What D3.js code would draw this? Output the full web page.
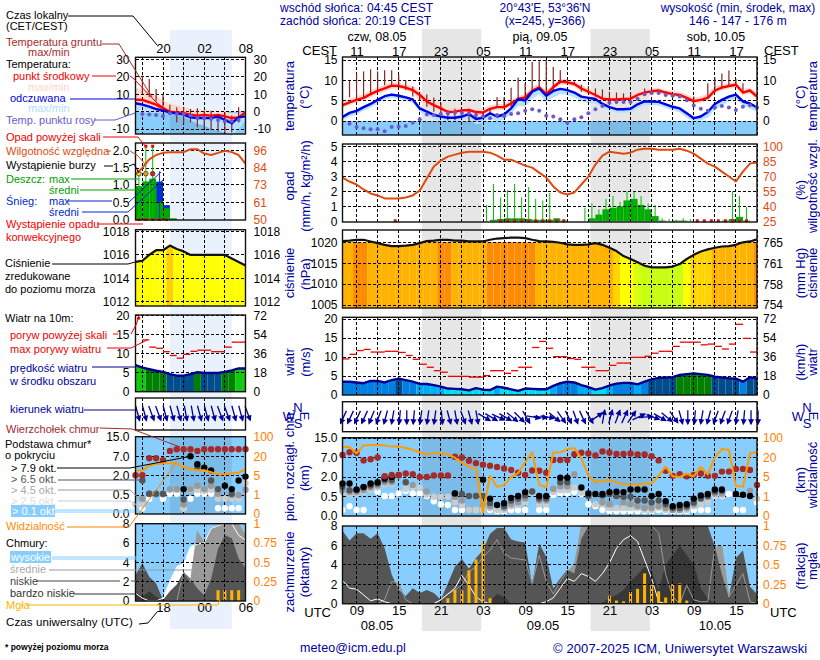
<!DOCTYPE html>
<html>
<head>
<meta charset="utf-8">
<script src="https://cdn.jsdelivr.net/npm/d3@7"></script>
<style>
  html, body { margin: 0; padding: 0; background: #fff; }
  svg { display: block; }
  text { font-family: "Liberation Sans", Arial, sans-serif; }
</style>
</head>
<body>
<div id="chart"></div>
<script>
const _ = null;

// ---- main meteogram, hourly from 07 UTC 08.05 ----
const tempMid = [3.9,4.6,5.2,5.7,6.6,7.4,8.0,8.7,8.6,8.2,7.6,6.4,4.8,3.9,3.1,2.2,2.3,2.6,2.7,2.2,2.1,3.0,3.4,3.4,4.3,5.4,5.8,7.4,8.3,6.6,8.3,9.7,9.5,9.1,8.0,7.2,6.4,5.5,5.3,5.3,5.4,5.5,6.4,7.0,7.3,7.5,7.0,6.6,6.4,5.7,4.9,5.2,5.7,7.5,8.2,8.6,8.9,7.0,7.5,6.0];
const tempMidMax = [4.7,5.5,6.1,6.6,7.6,8.3,8.9,9.5,9.4,9,8.6,7.5,5.9,5,4.2,3.3,3.4,3.5,3.6,3.1,3,3.9,4.2,4.2,5.1,6.2,6.6,8.4,9.1,7.6,9,10.4,10.2,9.8,8.8,8,7.2,6.2,6,6,6.1,6.2,7,7.7,8,8.2,7.7,7.4,7.2,6.6,5.7,6.1,6.8,8.6,9,9.4,9.6,7.9,8.2,7];
const tempMidMin = [3.2,3.9,4.5,5,5.8,6.6,7.2,7.9,7.9,7.5,6.8,4.8,3.8,3,2.4,1.5,1.6,1.8,1.9,1.4,1.3,2.2,2.7,2.7,3.5,4.7,5,6.8,7.5,5.8,7.6,8.9,8.8,8.4,7.2,6.5,5.6,4.8,4.6,4.7,4.8,4.8,5.7,6.3,6.6,6.8,6.3,5.9,5.7,5,4.2,4.5,5,6.8,7.5,7.9,8.2,6.3,6.8,5.3];
const tempFelt = [1.0,2.0,2.5,3.4,4.2,5.2,6.1,6.5,6.2,5.8,5.3,3.1,2.3,1.5,1.1,0.8,0.8,1.1,1.7,0.5,0.8,1.9,1.1,1.6,3.1,5.4,5.0,7.2,8.0,6.2,7.4,7.9,7.6,7.0,6.0,5.7,5.4,4.2,3.4,2.9,2.9,3.0,4.1,4.8,4.8,4.7,4.1,3.5,3.1,1.9,0.7,1.1,2.2,4.2,5.2,6.0,6.5,4.8,4.3,3.3];
const tempFeltMax = [1.3,2.3,2.8,3.7,4.5,5.5,6.4,6.8,6.5,6.1,5.6,3.5,2.6,1.9,1.5,1.1,1.1,1.4,2,0.9,1.1,2.2,1.4,1.9,3.4,5.7,5.3,7.5,8.3,6.5,7.7,8.2,7.9,7.3,6.3,6,5.7,4.5,3.7,3.2,3.2,3.3,4.4,5.1,5.1,5,4.4,3.8,3.4,2.2,1,1.4,2.5,4.5,5.5,6.3,6.8,5.1,4.6,3.6];
const tempFeltMin = [0.2,1.1,1.6,2.5,3.3,4.3,5.3,5.7,5.5,5,4.4,2.2,1.3,0.5,0,-0.2,-0.2,0.1,0.6,-0.8,-0.5,0.6,-0.1,0.3,1.8,3.7,3.5,5.4,6.5,4.7,5.8,6.6,6.4,5.8,4.8,4.4,4.3,3.3,2.5,2,2,2.1,3,3.9,3.9,3.8,3.2,2.6,2.1,0.8,-0.2,0.1,0.8,2.8,3.8,4.8,5.5,3.8,3,2.2];
const dewPoint = [_,-0.7,-1.5,-1.8,-2,-2,-2.5,-1.5,-1.4,-1.2,-0.4,0.4,1.6,1.5,1.7,1.9,2,2,1.9,1.5,1.1,0.7,1.5,1.2,1.7,1.9,2.5,2.9,2.5,1.3,1.1,0.4,-0.4,0.4,0.9,1.9,2.9,3.7,4.5,4.7,4.7,4.7,5.5,6.6,6.9,6.9,6.4,6.2,6,5.1,3.8,3,2.5,3.3,3.7,3.3,2.7,3.5,3.9,3.3];
const groundMax = [_,9.8,11.6,12.2,12.7,12.2,12.5,12.5,11.3,10,8.5,6.5,6.5,5.8,4.5,2.7,3,2.7,3,2.3,2.1,3.1,5.9,5.9,8.2,10.7,9.3,14.5,14.7,15,13.3,12.5,10.3,9.7,8.9,8.6,8,7.8,7.2,7,6.8,7,_,8,_,_,7.3,_,_,_,6,_,9.3,10.7,11.7,12.4,10.3,9.3,_,_];
const groundMin = [_,5.8,5.2,5.6,6.8,7.4,8.8,8.8,8.8,7.6,6,5,3.5,2.3,1.9,0.2,0.2,1.5,0,0.6,1,1.5,3.5,3.1,3.5,5.5,5.5,7.2,8,6,7.2,9.3,9.3,8.9,7.2,6.8,6,5.4,5.4,5.4,5.5,5.7,_,6.8,_,_,6.3,_,_,_,4.7,_,5.6,7,8.2,8.6,8.6,6.8,_,_];

const humidity = [69,65,62,57,53,51,48,48,48,49,51,56,68,80,86,90,92,94,95,95,95,94,91,87,87,84,81,79,74,69,60,54,52,54,62,70,82,91,95,94,93,94,97,98,98,97,97,97,98,96,93,88,83,80,75,70,65,75,83,84];
const rainMax = [0,0,0,0,0,0,0,0,0,0,0,0,0,0,0,0,0,0,0,0,1.1,2.5,1.6,2.1,2.5,1.6,2.3,1.5,1.4,1.9,0.2,0.15,0,0,0.9,1.2,0.8,1.5,1.7,1.3,2,2,1.7,1.2,1.1,0.2,0.15,0.1,0.2,0.15,0.1,0.1,0.1,0.1,0.1,2,1.7,0.95,0,0];
const rainMean = [0,0,0,0,0,0,0,0,0,0,0,0,0,0,0,0,0,0,0,0,0,0.1,0.15,0.2,0.2,0.2,0.15,0.1,0.1,0.1,0.2,0.05,0,0,0,0.2,0.45,0.8,0.9,1,1.4,1.5,1.1,0.8,0.35,0.05,0,0.05,0.05,0,0,0,0,0,0.05,0.15,0.3,0.05,0,0];
const convectiveHours = [7,22,23,24,25,26,27,28,29,30,31,50,51,52,53,54,55,56,57];

const pressure = [1020.3,1020.4,1020.6,1020.6,1020.2,1019.8,1019.4,1019.1,1019.1,1019.2,1019.4,1019.8,1020.3,1020.4,1020.6,1020.6,1020.4,1020.4,1020.2,1020.2,1020.2,1020.6,1020.9,1021,1021.1,1021.1,1021,1020.6,1020.3,1020.2,1020.1,1019.9,1019.5,1019.4,1019.4,1019.5,1019.8,1019.4,1018.7,1017.9,1016.7,1016,1015.2,1014.4,1014,1014,1014,1014.2,1014.8,1016,1017,1017.8,1018.3,1018.7,1019,1019.1,1019.4,1020,1020.2,1020.7];

const windSpeed = [3.5,3.5,3.3,3.1,3.7,3.7,3.3,3.9,4.3,3.9,3.5,2.9,2.9,2.6,2.2,1.7,1.6,1.5,1.2,1.8,1.4,1.3,2.2,1.9,1.5,1.1,1.7,1.6,1.5,1.5,2.4,3.1,3.5,3.3,2.6,2.1,1.4,1.8,2.5,3,3.2,3.2,2.8,3.5,4.1,4.5,4.6,4.7,5.3,5.5,5.7,5.5,5.3,4.8,4.6,4.4,4.3,3.5,4.7,4.3];
const windGust = [9.5,10.7,11.7,12,11.3,11.3,11.5,11.5,11.2,10.4,9.4,8.1,7.3,6.4,6,4.9,4.9,4.9,4.7,4.7,5.1,6.4,6.4,5.7,6.4,7.3,7.3,12.5,14.1,12.3,10.1,10.1,9.6,9.4,7.3,7.3,6.4,6.4,7.8,8.4,8.4,9.9,9.9,10.2,11,11.5,11.5,12.8,13.9,13.9,13.9,13.2,13.4,12.8,12.1,13.4,18.6,14.9,11.3];
const windDir = [25,25,25,25,22,20,15,10,5,0,5,8,8,8,355,345,350,340,345,350,300,300,295,300,310,315,330,280,275,280,310,325,335,340,335,330,235,190,195,200,205,215,245,265,290,300,310,325,345,0,5,10,15,20,20,20,10,5,0,0];

const cloudTop = [8.1,9.2,9,6.3,6.6,7.1,2.2,2.5,2.5,2.9,2.7,2,2,2.4,2.4,2.4,7.4,7.1,6.2,5.6,5.2,4.9,4.6,4.2,3.8,3.1,2.5,3.7,3.6,3.1,6.4,6.4,6.4,8.4,9,8.7,7.9,9.5,9.1,8.5,8.5,8.7,8.3,8.3,7.6,6.3,3.6,2.3,2.7,2.2,2.5,2.9,2.3,2.3,3.4,3.4,4.1,4.1,3.8,1.4];
const base79 = [1.5,1.5,1.05,1.25,1.5,1.6,1.9,2,_,_,_,_,_,_,_,_,0.75,_,_,_,1.8,0.45,0.28,0.33,0.47,0.55,0.85,_,0.55,0.55,_,1.95,1.95,_,1.2,0.75,0.7,0.7,0.85,0.88,0.85,1.05,1.05,1.05,0.55,0.7,0.38,0.25,0.28,0.3,0.45,0.6,0.7,1.05,1.05,_,0.7,0.65,0.55,_];
const base65 = [1.25,1,1,1.2,1.35,1.5,1.77,1.77,2.5,1.6,_,_,_,_,_,_,0.75,0.7,0.55,0.55,0.55,0.33,_,0.25,0.4,0.45,0.6,0.9,0.45,0.45,_,1.6,1.6,_,_,0.55,_,0.6,0.7,0.55,0.5,0.5,0.4,0.4,0.35,0.4,0.3,0.2,0.2,0.25,0.35,0.45,0.55,0.9,0.95,_,_,_,_,_];
const base45 = [1,0.85,0.85,1,1.2,1.35,1.6,1.6,2.3,_,1.4,_,0.9,_,_,_,0.5,0.4,_,_,0.3,0.25,_,0.2,0.3,0.35,0.45,0.9,0.4,0.4,1.1,1.3,1.3,2.7,_,_,_,0.35,0.3,_,0.35,0.3,0.25,0.2,0.2,0.25,0.2,0.15,0.15,0.2,0.3,_,0.5,0.75,0.75,_,_,_,0.95,_];
const base25 = [0.85,0.7,0.7,0.85,1,1.2,1.45,1.45,_,1.1,1.25,1.2,0.65,0.5,0.5,0.5,0.35,0.28,0.15,0.15,0.15,0.2,0.15,0.15,0.25,0.28,0.35,0.75,0.3,0.3,0.85,1,1,1.2,0.8,_,0.3,0.3,0.2,0.2,0.2,0.2,0.2,0.15,0.15,0.2,0.15,0.15,0.15,0.15,0.25,0.3,0.35,0.6,0.6,_,_,_,0.65,0.45];
const base01 = [0.15,0.25,0.15,0.15,_,0.88,0.55,0.55,0.75,0.93,0.75,0.75,0.55,0.38,0.3,0.28,0.15,0.15,_,0.15,_,0.15,0.12,0.12,0.15,0.15,0.15,_,0.15,0.15,0.65,0.75,0.75,0.85,0.7,0.3,0.25,0.15,0.12,0.12,0.12,0.12,0.12,0.12,0.12,0.15,0.12,0.12,0.12,0.12,0.15,0.15,0.15,0.55,0.55,0.7,0.15,0.15,0.55,0.35];
const visibility = [63,63,38,70,72,72,70,65,66,59,52,42,34,38,38,34,20,16,13,11.5,0.17,6,3,3.4,5,8,16.5,42,3.4,2.9,41,41,55,59,19.5,6,3.9,4.2,4.4,3.9,3.5,3.5,3.5,3.7,3.7,6,13,5.5,5,7.5,5.5,13,7,21,55,52,3.2,3,38,42];

const cloudHigh = [2.4,1.6,1.5,0.9,0.3,0.5,0.2,0,0,0,0,0,0,0,0.4,1,1.6,2.9,1.9,0.7,0.2,0,0,0,0,0,0,0,0,0.2,0.6,1.6,2.6,2.3,3.1,2.8,2.3,3.1,4.2,5.7,6.6,7,6.4,4.5,2.6,0.2,0,0,0,0,0,0,0,0,0,0,0,0,0,0];
const cloudMid = [0,0,0,0,0,0,0.4,2.3,2.1,0.4,0,0,0,0,0.4,1,1.4,1.9,3.3,3.8,4.8,5.5,6.6,5.2,4.7,4.6,4.5,2.1,5,2.3,1,2.3,3.3,4,8,8,8,8,8,8,8,8,8,8,8,7.3,3,0.7,0,1.9,0.4,0.2,0.2,5.9,5.9,0.7,1.9,3.1,0.2,0];
const cloudLow = [7.5,6.5,7.25,7.25,6.7,7.25,5.7,3,1.4,0.8,1.6,1.1,1.4,1.1,0.4,2.1,3.8,4.6,3.6,4.7,5.5,7.2,7.8,7.8,6.6,6.4,6.3,2,6.2,4.8,1.6,2.6,3.5,3.1,6.7,8,8,8,8,8,8,8,8,8,8,8,8,8,8,8,8,8,8,5.9,3,0.6,4.7,5.5,1.75,1];
const cloudVeryLow = [0,0,0,0,0,0,0,0,0,0,0,0,0,0,0,0,0,0,0,0,0,0.2,1,0.7,0,0,0,0,0.2,0,0,0,0,0,0,0,0,0.1,0.6,0.9,1.4,2.3,3,3.8,3.4,1.4,4,5,6,5,4,1.6,0.5,0,0,0,0,0,0,0];
const fog = [0,0,0,0,0,0,0,0,0,0,0,0,0,0,0,0.07,0.18,0.17,0.43,0.57,0.8,0.07,0,0,0,0,0,0,0,0,0,0,0,0,0,0,0,0,0.1,0.04,0.03,0.15,0.19,0.39,0.24,0.16,0.08,0.25,0.26,0.04,0,0,0,0,0,0,0,0,0,0];

// ---- side strip for the area, hourly from 14 UTC 07.05 ----
const sideTempMid = [6.9,6.7,5.4,4,1.9,0,-0.4,-0.8,-1.7,-2.3,-1.9,-2.3,-1.9,-2.7,-3.7,-3.3,-0.4];
const sideTempMidMax = [13.6,13,11,9.2,6.7,4.5,3.8,2.8,1.5,1,0.8,0.5,0.5,0,-1,-1,0];
const sideTempMidMin = [0.5,0.5,0,0,-0.3,-0.8,-1.2,-1.8,-2.5,-3,-3,-3.2,-3,-3.8,-4.5,-4.5,-1.5];
const sideFelt = [4.8,4,2.9,1.5,0.6,-0.4,-1,-1.7,-3.3,-3.7,-3.7,-3.7,-2.9,-4.8,-6.7,-3.3,-2.7];
const sideFeltMax = [5,4.3,3.2,1.8,0.9,0,-0.7,-1.4,-3,-3.4,-3.4,-3.4,-2.6,-4.5,-6.4,-3,-2.4];
const sideFeltMin = [0,-0.5,-0.5,-0.5,-0.5,-1,-2,-3,-5,-7,-8,-10,-11,-12,-14,-10,-5];
const sideDew = [_,-1.3,-1.7,-1.9,-2.7,-1,-1.3,-1.3,-2.3,-3.7,-4,-4.2,-4.8,-5.6,-5.6,-4.8,_];
const sideGroundMax = [_,20.8,18.8,13,10,4,2.5,2.5,1.5,2,0.5,0.5,-1.5,-0.4,-2.3,2.5,_];
const sideGroundMin = [_,10.6,8.3,6,3,-0.5,-6.2,-7,-6.2,-9,-10,-10.6,-11.4,-12.9,-12,-6.2,_];

const sideHumidity = [80,84,90,93,94.5,95,95,95,97,97,94,93,94.5,96,95,93,87];
const sideRainMean = [0.96,1.1,1.18,0.53,0.34,0.05,0,0,0,0,0,0,0,0,0,0];
const sideSnowMean = [0,0,0,1.09,0.43,0,0,0,0,0,0,0,0,0,0,0];
const sideRainMax = [1.35,2.13,2.13,0,0,0,0,0,0,0,0,0,0,0,0,0];
const sideSnowMax = [0,0,0,1.4,0,0,0,0,0,0,0,0,0,0,0,0];
const sideConvectiveHours = [0,1,2,3,4];
const sideOverScaleHours = [1,2];
const sideStorms = [{hour: 0, level: 1.33, color: "#ffe000"}, {hour: 1, level: 1.33, color: "#ffa000"}, {hour: 2, level: 1.33, color: "#e82000"}];

const sidePressure = [1015.4,1015.5,1016,1016.4,1016.4,1016.8,1016.5,1016.3,1016,1016,1016,1016,1016,1016,1015.7,1015.4,1015.1];
const sideWindSpeed = [7,6.3,5.9,5.5,5.2,4.6,4.2,4.2,4.6,5.1,4.9,4.9,4.9,5.2,5.6,6.1,6.1];
const sideWindGust = [_,13.6,11.7,11.4,10.5,9.5,8.8,9.8,10.6,10.9,10.9,10.5,10.5,11.7,13,13];
const sideWindDir = [345,345,340,340,345,345,345,350,350,345,345,345,340,340,345,345,340];

const sideCloudTop = [2,2,6.5,6.5,6,9.2,9.85,9.85,9.85,9.2,9.85,9.85,9.85,9.85,9.85,9.85,9.85];
const sideBase79 = [_,_,_,_,_,_,_,0.95,7,4.9,4,3.3,_,1.2,0.95,1.6,1.9];
const sideBase65 = [_,1.6,0.6,0.6,0.6,_,_,0.38,_,4,_,1.6,0.95,_,0.6,_,_];
const sideBase45 = [_,0.4,0.6,0.55,0.55,0.95,0.95,0.25,0.95,1.2,0.95,1.2,0.6,_,0.5,0.5,0.9];
const sideBase25 = [0.25,0.25,_,_,_,0.9,0.9,0.15,0.9,0.9,0.8,0.9,0.4,0.4,0.4,0.4,1.4];
const sideBase01 = [_,0.15,0.4,_,0.4,0.6,0.6,0.15,0.4,0.6,0.6,0.6,0.15,0.15,0.15,0.15,_];
const sideVisibility = [8.7,8.7,12.6,14,14.5,14.5,14.5,11.3,10,9,9,7.4,5.8,5.8,6.6,7.1,9.7];

const sideCloudHigh = [0.8,0.3,0,0,0.3,2,3.55,3.9,5.6,5.9,6,7.5,7.8,8,8,6.8,6.3];
const sideCloudMid = [0,0,0,0,0,0,0,3,2,7.2,6,7.5,7.9,8,8,8,6.8];
const sideCloudLow = [2.7,3.9,2.5,1.8,0.1,1,1.7,3,2.3,1.3,0.6,2.3,5.4,6.8,6.5,4.4,3.4];
const sideCloudVeryLow = [0.8,0.45,1,0.45,0,0,0,0,0,0,0,0,0,0,0,0,0];
const sideFog = [0,0,0,0,0,0,0,0,0,0,0,0,0.14,0.14,0.14,0.14,0];

const dayLabels = ["czw, 08.05", "pią, 09.05", "sob, 10.05"];
const dateLabels = ["08.05", "09.05", "10.05"];

// tick labels
const pressureTicks = [1005, 1010, 1015, 1020];
const mmHgTicks = [754, 758, 761, 765];
const sidePressureTicks = [1012, 1014, 1016, 1018];

// colours of the filled bars, by value
const pressureColor = d3.scaleThreshold()
  .domain([1014.9, 1015.6, 1016.75, 1018.5, 1020.5])
  .range(["#c8ff10", "#d8ff10", "#ffff00", "#ffd400", "#ffb300", "#ff8c00"]);
const sidePressureColor = d3.scaleThreshold()
  .domain([1016.75])
  .range(["#ffff00", "#ffd000"]);
const windColor = d3.scaleThreshold()
  .domain([2, 3, 4, 5, 6])
  .range(["#00dcf0", "#00aaf5", "#0080e0", "#004c8c", "#008000", "#10c810"]);

const width = 820, height = 660;
const svg = d3.select("#chart").append("svg").attr("width", width).attr("height", height);
const defs = svg.append("defs");
let clipCount = 0;

const mainX = d3.scaleLinear().domain([0, 59]).range([342.5, 757]);
const sideX = d3.scaleLinear().domain([0, 16]).range([135.5, 245.5]);
const main = {x: mainX, gridHours: d3.range(2, 60, 3), left: 342.5, right: 757, pad: 5, padR: 6};
const side = {x: sideX, gridHours: d3.range(1, 17, 3), left: 135.5, right: 245.5, pad: 6, padR: 8};

const navy = "#0000a0";
const orange = "#ff8000";
const rhColor = "#e04a10";

// background bands: nights in the main chart, same stretch in the strip
[[11.3, 19.75], [35.3, 43.75]].forEach(b => {
  svg.append("rect").attr("x", mainX(b[0])).attr("width", mainX(b[1]) - mainX(b[0]))
    .attr("y", 29).attr("height", 602).attr("fill", "#e6e6e6");
});
svg.append("rect").attr("x", sideX(5)).attr("width", sideX(14) - sideX(5))
  .attr("y", 30).attr("height", 599).attr("fill", "#e9f1fd");

function gridLines(g, p, y, top, bottom, yTicks) {
  const grid = g.append("g").attr("stroke", "#000").attr("stroke-dasharray", "3 2").attr("shape-rendering", "crispEdges");
  grid.selectAll(".v").data(p.gridHours).join("line")
    .attr("x1", d => p.x(d)).attr("x2", d => p.x(d)).attr("y1", top).attr("y2", bottom);
  if (y) {
    grid.selectAll(".h").data(yTicks).join("line")
      .attr("x1", p.left).attr("x2", p.right).attr("y1", d => y(d)).attr("y2", d => y(d));
  }
}

function frame(g, p, top, bottom) {
  g.append("rect").attr("x", p.left).attr("y", top).attr("width", p.right - p.left).attr("height", bottom - top)
    .attr("fill", "none").attr("stroke", "#111").attr("stroke-width", 1.4);
}

function axis(g, gen, pos, ticks, fmt, color, padding, size) {
  const a = g.append("g")
    .attr("transform", pos)
    .call(gen.tickValues(ticks).tickFormat(fmt).tickSize(0).tickPadding(padding));
  a.select(".domain").remove();
  a.attr("font-family", null).attr("font-size", null);
  a.selectAll("text").attr("fill", color || "#000").attr("font-size", size || 12);
}

function sideAxes(g, p, yL, ticksL, fmtL, yR, ticksR, fmtR, colorR) {
  axis(g, d3.axisLeft(yL), `translate(${p.left},0)`, ticksL, fmtL, "#000", p.pad);
  axis(g, d3.axisRight(yR), `translate(${p.right},0)`, ticksR, fmtR, colorR, p.padR);
}

function band(g, p, y, hi, lo, color) {
  g.append("path").attr("fill", color)
    .attr("d", d3.area().x((d, i) => p.x(i)).y0((d, i) => y(lo[i])).y1(d => y(d))(hi));
}

function trace(g, p, y, values, color, w) {
  g.append("path").attr("fill", "none").attr("stroke", color).attr("stroke-width", w).attr("stroke-linejoin", "round")
    .attr("d", d3.line().x((d, i) => p.x(i)).y(d => y(d))(values));
}

function dots(g, p, y, values, color, r, dx) {
  g.selectAll(null).data(values.map((v, i) => ({v, i})).filter(d => d.v != null)).join("circle")
    .attr("cx", d => p.x(d.i + (dx || 0))).attr("cy", d => y(d.v)).attr("r", r).attr("fill", color);
}

function temperaturePanel(p, top, bottom, y, ticks, s) {
  const g = svg.append("g");
  g.append("rect").attr("x", p.left).attr("width", p.right - p.left).attr("y", y(0)).attr("height", bottom - y(0)).attr("fill", "#87ceff");
  p.shade.forEach(b => {
    g.append("rect").attr("x", p.x(b[0])).attr("width", p.x(b[1]) - p.x(b[0])).attr("y", y(0)).attr("height", bottom - y(0))
      .attr("fill", "#000").attr("opacity", 0.09);
  });
  band(g, p, y, s.midMax, s.midMin, "#ffd9cf");
  band(g, p, y, s.feltMax, s.feltMin, "#b6e3ff");
  gridLines(g, p, y, top, bottom, ticks);
  g.append("g").attr("stroke", "#8b2323").attr("stroke-width", 1.2)
    .selectAll("line").data(s.groundMax.map((v, i) => ({v, i, lo: s.groundMin[i]})).filter(d => d.v != null)).join("line")
    .attr("x1", d => p.x(d.i)).attr("x2", d => p.x(d.i)).attr("y1", d => y(d.v)).attr("y2", d => y(d.lo));
  trace(g, p, y, s.mid, "#ff0000", 2.4);
  trace(g, p, y, s.felt, "#0000e6", 2.4);
  dots(g, p, y, s.dew, "#6a5acd", 2);
  frame(g, p, top, bottom);
  return g;
}

function rainPanel(p, top, bottom, y, yRH, s) {
  const g = svg.append("g");
  const baseY = y(0);
  const bars = (values, color) => g.selectAll(null).data(values.map((v, i) => ({v, i})).filter(d => d.v > 0)).join("rect")
    .attr("x", d => p.x(d.i)).attr("width", d => p.x(d.i + 1) - p.x(d.i))
    .attr("y", d => y(d.v)).attr("height", d => baseY - y(d.v)).attr("fill", color);
  if (s.snowMean) bars(s.snowMean, "#0030d0");
  bars(s.rainMean, "#00aa00");
  gridLines(g, p, y, top, bottom, s.ticks);
  const stems = (values, color) => g.selectAll(null).data(values.map((v, i) => ({v, i})).filter(d => d.v > 0)).join("line")
    .attr("x1", d => p.x(d.i + 0.5)).attr("x2", d => p.x(d.i + 0.5)).attr("y1", d => y(d.v)).attr("y2", baseY)
    .attr("stroke", color).attr("stroke-width", 1);
  stems(s.rainMax, "#00c000");
  if (s.snowMax) stems(s.snowMax, "#0030d0");
  g.selectAll(null).data(s.convective).join("rect")
    .attr("x", d => p.x(d + 0.5) - 1.5).attr("width", 3).attr("y", baseY - 2).attr("height", 3).attr("fill", "#e01010");
  if (s.over) {
    g.selectAll(null).data(s.over).join("rect")
      .attr("x", d => p.x(d + 0.5) - 1.5).attr("width", 3).attr("y", y(2.13) - 1.5).attr("height", 3).attr("fill", "#f00000");
  }
  if (s.storms) {
    g.selectAll(null).data(s.storms).join("circle")
      .attr("cx", d => p.x(d.hour + 0.5)).attr("cy", d => y(d.level)).attr("r", 2.3)
      .attr("fill", d => d.color).attr("stroke", "#333").attr("stroke-width", 0.8);
  }
  trace(g, p, yRH, s.humidity, rhColor, 2);
  frame(g, p, top, bottom);
  return g;
}

// colour bars cut to the area under a curve
function filledCurve(g, p, y, bottom, values, color) {
  const id = "clip" + (clipCount++);
  defs.append("clipPath").attr("id", id).append("path")
    .attr("d", d3.area().x((d, i) => p.x(i)).y0(bottom).y1(d => y(d))(values));
  g.append("g").attr("clip-path", `url(#${id})`)
    .selectAll("rect").data(values).join("rect")
    .attr("x", (d, i) => p.x(i - 0.5)).attr("width", (d, i) => p.x(i + 0.5) - p.x(i - 0.5))
    .attr("y", y.range()[1]).attr("height", bottom - y.range()[1])
    .attr("fill", d => color(d));
}

function pressurePanel(p, top, bottom, y, ticks, values, color) {
  const g = svg.append("g");
  filledCurve(g, p, y, bottom, values, color);
  gridLines(g, p, y, top, bottom, ticks);
  trace(g, p, y, values, "#111", 2.2);
  frame(g, p, top, bottom);
  return g;
}

function windPanel(p, top, bottom, y, ticks, speed, gust) {
  const g = svg.append("g");
  filledCurve(g, p, y, bottom, speed, windColor);
  gridLines(g, p, y, top, bottom, ticks);
  g.append("g").attr("stroke", "#f00000").attr("stroke-width", 1.3)
    .selectAll("line").data(gust.map((v, i) => ({v, i})).filter(d => d.v != null)).join("line")
    .attr("x1", d => p.x(d.i)).attr("x2", d => p.x(d.i + 1)).attr("y1", d => y(d.v)).attr("y2", d => y(d.v));
  trace(g, p, y, speed, "#000090", 2.4);
  frame(g, p, top, bottom);
  return g;
}

function directionPanel(p, top, bottom, cy, len, dirs, dx) {
  const g = svg.append("g");
  gridLines(g, p, null, top, bottom);
  const ar = g.append("g").attr("fill", navy).attr("stroke", navy);
  dirs.forEach((dir, i) => {
    const a = ar.append("g").attr("transform", `translate(${p.x(i + dx)},${cy}) rotate(${dir})`);
    a.append("line").attr("y1", -len / 2).attr("y2", len / 2).attr("stroke-width", 1.3);
    a.append("path").attr("stroke", "none").attr("d", d3.line()([[0, len / 2 + 1.5], [-3, len / 2 - 4.5], [3, len / 2 - 4.5]]));
  });
  frame(g, p, top, bottom);
  return g;
}

function cloudBasePanel(p, top, bottom, y, yVis, ticks, s) {
  const g = svg.append("g");
  g.append("rect").attr("x", p.left).attr("width", p.right - p.left).attr("y", top).attr("height", bottom - top).attr("fill", "#87ceff");
  p.shade.forEach(b => {
    g.append("rect").attr("x", p.x(b[0])).attr("width", p.x(b[1]) - p.x(b[0])).attr("y", top).attr("height", bottom - top)
      .attr("fill", "#000").attr("opacity", 0.09);
  });
  gridLines(g, p, y, top, bottom, ticks);
  dots(g, p, y, s.base01, "#ffffff", 3.2);
  dots(g, p, y, s.base25, "#cccccc", 3.2);
  dots(g, p, y, s.base45, "#999999", 3.2);
  dots(g, p, y, s.base65, "#555555", 3.2);
  dots(g, p, y, s.base79, "#000000", 3.2);
  dots(g, p, y, s.top, "#a52a2a", 3.2);
  trace(g, p, yVis, s.vis, "#ff9a00", 2);
  frame(g, p, top, bottom);
  return g;
}

function cloudCoverPanel(p, top, bottom, y, yFog, ticks, s) {
  const g = svg.append("g");
  g.append("rect").attr("x", p.left).attr("width", p.right - p.left).attr("y", top).attr("height", bottom - top).attr("fill", "#87ceff");
  const area = d3.area().x((d, i) => p.x(i)).y0(bottom).y1(d => y(d));
  g.append("path").attr("d", area(s.high)).attr("fill", "#ffffff");
  g.append("path").attr("d", area(s.mid)).attr("fill", "#999999");
  g.append("path").attr("d", area(s.low)).attr("fill", "#555555");
  g.append("path").attr("d", area(s.veryLow)).attr("fill", "#383838");
  trace(g, p, y, s.mid, "#999999", 1);
  trace(g, p, y, s.high, "#ffffff", 1);
  g.selectAll(null).data(s.fog.map((v, i) => ({v, i})).filter(d => d.v > 0)).join("rect")
    .attr("x", d => p.x(d.i) - 1.5).attr("width", 3).attr("y", d => yFog(d.v)).attr("height", d => bottom - yFog(d.v))
    .attr("fill", "#ffb400");
  gridLines(g, p, y, top, bottom, ticks);
  frame(g, p, top, bottom);
  return g;
}

main.shade = [[11.3, 19.75], [35.3, 43.75]];
side.shade = [[5, 14]];

const f0 = d => d;
const f1 = d3.format(".1f");

// ---- main panels ----
let y, yR, g;
y = d3.scaleLinear().domain([0, 15]).range([121, 60]);
g = temperaturePanel(main, 57, 135, y, [0, 5, 10, 15], {mid: tempMid, midMax: tempMidMax, midMin: tempMidMin, felt: tempFelt, feltMax: tempFeltMax, feltMin: tempFeltMin, dew: dewPoint, groundMax, groundMin});
sideAxes(g, main, y, [0, 5, 10, 15], f0, y, [0, 5, 10, 15], f0);

y = d3.scaleLinear().domain([0, 5]).range([221.3, 146.7]);
yR = d3.scaleLinear().domain([25, 100]).range([221.3, 146.7]);
g = rainPanel(main, 144, 222, y, yR, {rainMean, rainMax, convective: convectiveHours, humidity, ticks: [1, 2, 3, 4, 5]});
sideAxes(g, main, y, [0, 1, 2, 3, 4, 5], f0, yR, [25, 40, 55, 70, 85, 100], f0, rhColor);

y = d3.scaleLinear().domain([1005, 1020]).range([305, 242.3]);
yR = d3.scaleLinear().domain(mmHgTicks).range([305, 284.3, 263.3, 242.3]);
g = pressurePanel(main, 230, 308, y, pressureTicks, pressure, pressureColor);
sideAxes(g, main, y, pressureTicks, f0, yR, mmHgTicks, f0);

y = d3.scaleLinear().domain([0, 20]).range([395, 319]);
yR = d3.scaleLinear().domain([0, 72]).range([395, 319]);
g = windPanel(main, 317.3, 395, y, [5, 10, 15, 20], windSpeed, windGust);
sideAxes(g, main, y, [0, 5, 10, 15, 20], f0, yR, [0, 18, 36, 54, 72], f0);

directionPanel(main, 401.7, 431.7, 417, 13.5, windDir, 0.15);

y = d3.scaleLinear().domain([0, 0.5, 2, 7, 15]).range([515.7, 496.7, 477, 457.7, 438]);
yR = d3.scaleLinear().domain([0, 1, 5, 20, 100]).range([515.7, 496.7, 477, 457.7, 438]);
g = cloudBasePanel(main, 437.7, 516, y, yR, [0.5, 2, 7, 15], {base01, base25, base45, base65, base79, top: cloudTop, vis: visibility});
sideAxes(g, main, y, [0, 0.5, 2, 7, 15], f1, yR, [0, 1, 5, 20, 100], f0, orange);

y = d3.scaleLinear().domain([0, 8]).range([603.7, 526]);
yR = d3.scaleLinear().domain([0, 1]).range([603.7, 526]);
g = cloudCoverPanel(main, 526, 603.7, y, yR, [2, 4, 6], {high: cloudHigh, mid: cloudMid, low: cloudLow, veryLow: cloudVeryLow, fog});
sideAxes(g, main, y, [0, 2, 4, 6, 8], f0, yR, [0, 0.25, 0.5, 0.75, 1], f0, orange);

// time axes of the main panels
const mainHours = d3.range(2, 60, 6);
axis(svg, d3.axisTop(mainX), "translate(0,57)", mainHours, d => d3.format("02")((d + 9) % 24), "#000", 1, 13);
axis(svg, d3.axisBottom(mainX), "translate(0,603.7)", mainHours, d => d3.format("02")((d + 7) % 24), "#000", 2, 13);

// ---- side panels ----
y = d3.scaleLinear().domain([-10, 30]).range([129, 59.5]);
g = temperaturePanel(side, 57.3, 134, y, [-10, 0, 10, 20, 30], {mid: sideTempMid, midMax: sideTempMidMax, midMin: sideTempMidMin, felt: sideFelt, feltMax: sideFeltMax, feltMin: sideFeltMin, dew: sideDew, groundMax: sideGroundMax, groundMin: sideGroundMin});
sideAxes(g, side, y, [-10, 0, 10, 20, 30], f0, y, [-10, 0, 10, 20, 30], f0);

y = d3.scaleLinear().domain([0, 0.5, 1, 1.5, 2]).range([220, 202.7, 184.7, 168, 150.7]);
yR = d3.scaleLinear().domain([50, 61, 73, 84, 96]).range([220, 202.7, 184.7, 168, 150.7]);
g = rainPanel(side, 143, 220, y, yR, {rainMean: sideRainMean, snowMean: sideSnowMean, rainMax: sideRainMax, snowMax: sideSnowMax, convective: sideConvectiveHours, over: sideOverScaleHours, storms: sideStorms, humidity: sideHumidity, ticks: [0.5, 1, 1.5, 2]});
sideAxes(g, side, y, [0, 0.5, 1, 1.5, 2], f1, yR, [50, 61, 73, 84, 96], f0, rhColor);

y = d3.scaleLinear().domain([1012, 1018]).range([301.7, 231.5]);
g = pressurePanel(side, 229.7, 306, y, sidePressureTicks, sidePressure, sidePressureColor);
sideAxes(g, side, y, sidePressureTicks, f0, y, sidePressureTicks, f0);

y = d3.scaleLinear().domain([0, 20]).range([391.7, 315.5]);
yR = d3.scaleLinear().domain([0, 72]).range([391.7, 315.5]);
g = windPanel(side, 315, 391.7, y, [5, 10, 15, 20], sideWindSpeed, sideWindGust);
g.append("circle").attr("cx", sideX(0.45)).attr("cy", y(19.3)).attr("r", 1.6).attr("fill", "#f00000");
sideAxes(g, side, y, [0, 5, 10, 15, 20], f0, yR, [0, 18, 36, 54, 72], f0);

directionPanel(side, 398, 430, 413, 15, sideWindDir, 0.3);

y = d3.scaleLinear().domain([0, 0.5, 2, 7, 15]).range([514, 495, 475.3, 456.3, 436.7]);
yR = d3.scaleLinear().domain([0, 1, 5, 20, 100]).range([514, 495, 475.3, 456.3, 436.7]);
g = cloudBasePanel(side, 436.7, 514, y, yR, [0.5, 2, 7, 15], {base01: sideBase01, base25: sideBase25, base45: sideBase45, base65: sideBase65, base79: sideBase79, top: sideCloudTop, vis: sideVisibility});
sideAxes(g, side, y, [0, 0.5, 2, 7, 15], f1, yR, [0, 1, 5, 20, 100], f0, orange);

y = d3.scaleLinear().domain([0, 8]).range([601, 523.7]);
yR = d3.scaleLinear().domain([0, 1]).range([601, 523.7]);
g = cloudCoverPanel(side, 523.7, 601, y, yR, [2, 4, 6], {high: sideCloudHigh, mid: sideCloudMid, low: sideCloudLow, veryLow: sideCloudVeryLow, fog: sideFog});
sideAxes(g, side, y, [0, 2, 4, 6, 8], f0, yR, [0, 0.25, 0.5, 0.75, 1], f0, orange);

axis(svg, d3.axisTop(sideX), "translate(0,57)", [4, 10, 16], d => d3.format("02")((d + 16) % 24), "#000", 4, 13);
axis(svg, d3.axisBottom(sideX), "translate(0,601)", [4, 10, 16], d => d3.format("02")((d + 14) % 24), "#000", 2, 13);

// ---- texts around the main chart ----
function label(txt, x, yy, opts) {
  const o = opts || {};
  return svg.append("text").text(txt).attr("x", x).attr("y", yy).attr("dy", "0.35em")
    .attr("fill", o.color || "#000").attr("font-size", o.size || 11)
    .attr("text-anchor", o.anchor || "start").attr("letter-spacing", o.spacing || null)
    .attr("font-weight", o.weight || null);
}
function vlabel(txt, x, yy, color) {
  svg.append("text").text(txt).attr("transform", `translate(${x},${yy}) rotate(-90)`)
    .attr("dy", "0.35em").attr("text-anchor", "middle").attr("font-size", 13).attr("fill", color || navy);
}

label("wschód słońca: 04:45 CEST", 280, 8, {color: navy, size: 12, spacing: 0.1});
label("zachód słońca: 20:19 CEST", 280, 21, {color: navy, size: 12, spacing: 0.1});
label("20°43'E, 53°36'N", 545, 8, {color: navy, size: 12, anchor: "middle"});
label("(x=245, y=366)", 545, 21, {color: navy, size: 12, anchor: "middle"});
label("wysokość (min, środek, max)", 738, 8, {color: navy, size: 12, anchor: "middle"});
label("146 - 147 - 176 m", 738, 21, {color: navy, size: 12, anchor: "middle", spacing: 0.2});

[377, 540, 716].forEach((x, i) => label(dayLabels[i], x, 37, {anchor: "middle", size: 12.5}));
[377, 543, 715].forEach((x, i) => label(dateLabels[i], x, 625, {anchor: "middle", size: 13}));
label("CEST", 337, 50, {anchor: "end", size: 13});
label("CEST", 764, 50, {size: 13});
label("UTC", 331, 612, {anchor: "end", size: 13});
label("UTC", 770, 612, {size: 13});

vlabel("temperatura", 289, 96); vlabel("(°C)", 304, 97);
vlabel("opad", 289, 186); vlabel("(mm/h, kg/m²/h)", 305, 186);
vlabel("ciśnienie", 289, 273); vlabel("(hPa)", 305, 274);
vlabel("wiatr", 289, 362); vlabel("(m/s)", 305, 362);
vlabel("pion. rozciągł. chm.", 289, 465); vlabel("(km)", 304, 478);
vlabel("zachmurzenie", 289, 572); vlabel("(oktanty)", 304, 572);
vlabel("temperatura", 812, 96); vlabel("(°C)", 800, 97);
vlabel("wilgotność wzgl.", 812, 186); vlabel("(%)", 800, 190);
vlabel("ciśnienie", 812, 273); vlabel("(mm Hg)", 800, 273);
vlabel("wiatr", 812, 362); vlabel("(km/h)", 800, 362);
vlabel("widzialność", 812, 475); vlabel("(km)", 800, 480);
vlabel("mgła", 812, 566); vlabel("(frakcja)", 800, 566);

function compass(x, yy) {
  label("N", x, yy - 9, {color: navy, size: 13, anchor: "middle"});
  label("W", x - 9, yy, {color: navy, size: 13, anchor: "middle"});
  label("S", x, yy + 7, {color: navy, size: 13, anchor: "middle"});
  svg.append("text").text("E").attr("transform", `translate(${x + 7},${yy}) rotate(90)`).attr("dy", "0.35em")
    .attr("text-anchor", "middle").attr("font-size", 13).attr("fill", navy);
}
compass(298, 416);
compass(807, 416);

label("meteo@icm.edu.pl", 300, 648, {color: navy, size: 12.5, spacing: 0.1});
label("© 2007-2025 ICM, Uniwersytet Warszawski", 553, 648, {color: navy, size: 13, spacing: 0.1});

// ---- legend along the left edge ----
const black = "#000", red = "#f00000", brown = "#a52a2a", green = "#00a000", blue = "#0028d0";
const legend = [
  ["Czas lokalny", 6, 15, black], ["(CET/CEST)", 6, 26, black],
  ["Temperatura gruntu", 6, 42, brown], ["max/min", 28, 52, brown],
  ["Temperatura:", 6, 64, black], ["punkt środkowy", 13, 76, red],
  ["max/min", 28, 87, "#ffd8c8"], ["odczuwana", 10, 98, "#0000e0"],
  ["max/min", 28, 108, "#b0dcff"], ["Temp. punktu rosy", 6, 120, "#6a5acd"],
  ["Opad powyżej skali", 6, 137, red], ["Wilgotność względna", 6, 151, rhColor],
  ["Wystąpienie burzy", 6, 165, black], ["Deszcz:", 6, 179, green], ["max", 49, 179, green],
  ["średni", 49, 190, green], ["Śnieg:", 6, 201, blue], ["max", 49, 201, blue], ["średni", 49, 212, blue],
  ["Wystąpienie opadu", 6, 224, red], ["konwekcyjnego", 6, 237, red],
  ["Ciśnienie", 5, 263, black], ["zredukowane", 5, 276, black], ["do poziomu morza", 5, 289, black],
  ["Wiatr na 10m:", 5, 318, black], ["poryw powyżej skali", 10, 335, red], ["max porywy wiatru", 10, 349, red],
  ["prędkość wiatru", 10, 368, navy], ["w środku obszaru", 10, 381, navy], ["kierunek wiatru", 10, 409, navy],
  ["Wierzchołek chmur", 6, 429, brown], ["Podstawa chmur*", 5, 444, black], ["o pokryciu", 5, 455, black],
  ["> 7.9 okt.", 11, 468, black], ["> 6.5 okt.", 11, 479, "#555"], ["> 4.5 okt.", 11, 490, "#aaa"], ["> 2.5 okt.", 11, 501, "#ddd"],
  ["Widzialność", 6, 526, "#ff8c00"], ["Chmury:", 6, 543, black], ["średnie", 10, 569, "#aaa"],
  ["niskie", 10, 581, "#444"], ["bardzo niskie", 10, 593, "#333"], ["Mgła", 6, 605, "#ffb400"]
];
const boxes = [["> 0.1 okt.", 11, 511, 44], ["wysokie", 10, 557, 41]];
boxes.forEach(b => {
  svg.append("rect").attr("x", b[1]).attr("y", b[2] - 6).attr("width", b[3]).attr("height", 12).attr("fill", "#87ceff");
  label(b[0], b[1] + 1, b[2], {color: "#fff"});
});
legend.forEach(l => label(l[0], l[1], l[2], {color: l[3]}));
label("Czas uniwersalny (UTC)", 6, 622, {size: 11.5, spacing: 0.1});
label("* powyżej poziomu morza", 5, 647, {size: 8.5, weight: "bold"});

const leaders = [
  [black, [[68, 16], [133, 16], [157, 45]]],
  [brown, [[102, 44], [119, 44], [152, 97]]],
  [red, [[92, 76], [116, 76]]], [red, [[130, 76], [133, 78], [157, 103], [170, 112]]],
  ["#0000e0", [[70, 99], [135, 99]]],
  ["#6a5acd", [[94, 120], [115, 120], [135, 113]]],
  [red, [[103, 137], [138, 137], [146, 147]]],
  [rhColor, [[106, 151], [111, 151]]], [rhColor, [[130, 151], [137, 155], [146, 165]]],
  [black, [[104, 166], [113, 166]]], [black, [[129, 166], [134, 164], [139, 173]]],
  [green, [[71, 179], [139, 179]]], [green, [[80, 190], [146, 190]]],
  [blue, [[68, 201], [112, 201]]], [blue, [[128, 203], [161, 172]]],
  [blue, [[82, 212], [128, 212], [163, 180]]],
  [red, [[97, 224], [143, 224]]],
  [black, [[52, 264], [128, 264], [135, 262]]],
  [red, [[113, 334], [118, 334]]], [red, [[131, 334], [136, 325], [139, 316]]],
  [red, [[107, 348], [131, 348], [147, 340]]],
  ["#000090", [[92, 367], [135, 367]]], ["#000090", [[84, 410], [135, 410]]],
  [brown, [[100, 428], [132, 429], [180, 447]]],
  [black, [[57, 468], [130, 468], [192, 456]]],
  ["#555", [[58, 480], [143, 480]]],
  ["#999", [[58, 490], [130, 490], [143, 502]]],
  ["#ccc", [[58, 501], [130, 501], [137, 505]]],
  ["#87ceff", [[55, 510], [135, 510]]], ["#87ceff", [[55, 512], [135, 512]]],
  [orange, [[67, 527], [129, 527], [176, 463]]],
  ["#87ceff", [[52, 557], [186, 557]]], ["#87ceff", [[52, 559], [186, 559]]],
  ["#999", [[49, 570], [192, 570]]],
  ["#444", [[36, 581], [120, 581]]], ["#444", [[131, 581], [136, 581]]],
  ["#333", [[74, 594], [135, 594]]],
  ["#ffb400", [[26, 605], [218, 605], [220, 600]]],
  [black, [[139, 624], [148, 623], [157, 612]]]
];
svg.append("g").attr("fill", "none").selectAll("path").data(leaders).join("path")
  .attr("stroke", d => d[0]).attr("stroke-width", 1).attr("d", d => d3.line()(d[1]));
</script>
</body>
</html>
